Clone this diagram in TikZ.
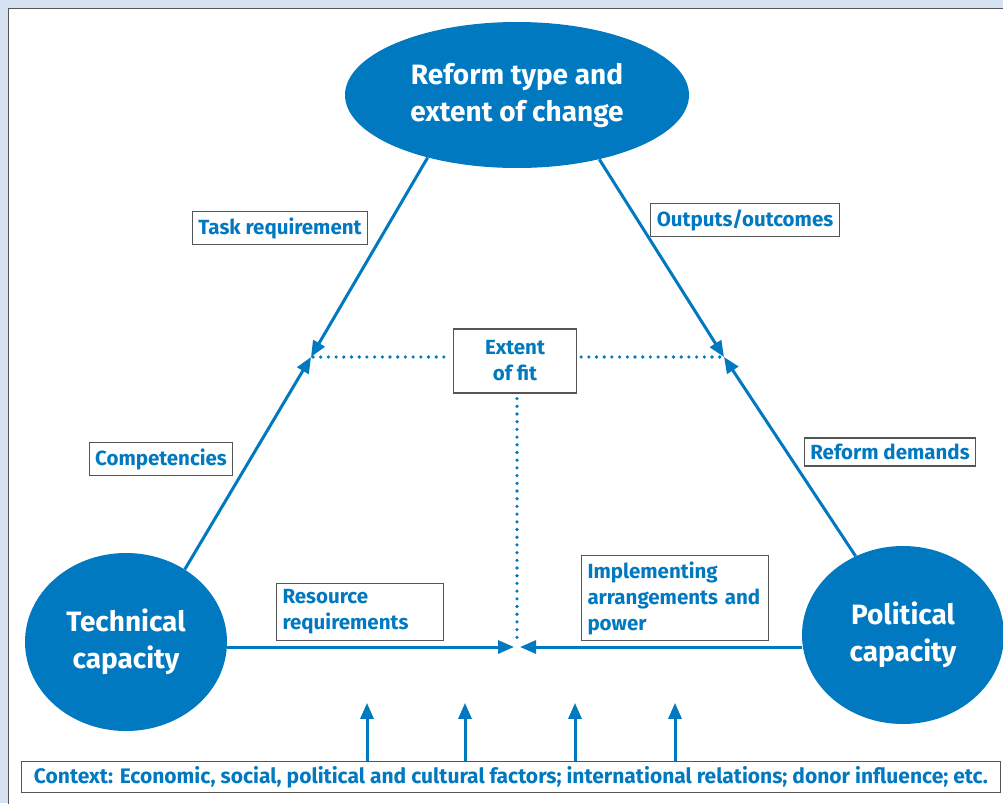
\documentclass[tikz,border=0pt]{standalone}
\usepackage{fontspec}
\setmainfont{Fira Sans}
\usetikzlibrary{calc}
\usetikzlibrary{positioning}
\usetikzlibrary{arrows.meta}
\usetikzlibrary{shapes.geometric}

\definecolor{reformblue}{HTML}{0079C1}
\definecolor{framebg}{HTML}{D6E2F1}
\definecolor{framegray}{HTML}{555555}

\tikzset{
  capacity/.style={ellipse, fill=reformblue, text=white, inner sep=0pt,
    font=\bfseries\fontsize{28}{37}\selectfont, align=center},
  labelbox/.style={draw=framegray, line width=1.2pt, fill=white, text=reformblue,
    font=\bfseries\fontsize{20.5}{26}\selectfont, inner sep=6pt},
  link/.style={draw=reformblue, line width=3pt, -{Triangle[length=16pt,width=13pt]}},
  fitline/.style={draw=reformblue, line width=3.6pt, line cap=round, dash pattern=on 0pt off 7.7pt}
}

\begin{document}
\begin{tikzpicture}[x=1pt,y=-1pt]
  \useasboundingbox (0,0) rectangle (1003,803);
  \fill[framebg] (0,0) rectangle (1003,803);
  \draw[framegray, line width=1.5pt, fill=white] (8.5,8.5) rectangle (1012,812);

  % the three capacities
  \node[capacity, minimum width=344pt, minimum height=146pt] (reform) at (517,95) {Reform type and\\extent of change};
  \node[capacity, minimum width=202pt, minimum height=178pt] (technical) at (126,642) {Technical\\capacity};
  \node[capacity, minimum width=202pt, minimum height=178pt] (political) at (903,635) {Political\\capacity};

  \coordinate (fitL) at (311,357);
  \coordinate (fitR) at (724,357);
  \coordinate (fitB) at (517,647);

  \node[labelbox, align=center, minimum width=123pt, minimum height=64pt] (extent) at (515,361) {Extent\\of fit};

  \draw[link] (reform.215) -- (fitL);
  \draw[link] (reform.322) -- (fitR);
  \draw[link] (technical.51) -- (fitL);
  \draw[link] (political.121) -- (fitR);
  \draw[link, shorten >=3pt] (technical.east |- fitB) -- (fitB);
  \draw[link, shorten >=3pt] (political.west |- fitB) -- (fitB);

  \draw[fitline] (fitL) ++(2,0) -- ($(extent.west)+(-3,-4)$);
  \draw[fitline] ($(extent.east)+(4,-4)$) -- (fitR);
  \draw[fitline] ($(extent.south)+(2,5)$) -- ($(fitB)+(0,-6)$);

  \node[labelbox] (task) at (280,228) {Task requirement};
  \node[labelbox] (outputs) at (745,220) {Outputs/outcomes};
  \node[labelbox] (competencies) at (161,459) {Competencies};
  \node[labelbox] (demands) at (890,452) {Reform demands};
  \node[labelbox, align=left, text width=155pt] (resource) at (360,612) {Resource\\requirements};
  \node[labelbox, align=left, text width=175pt] (implementing) at (675,598) {Implementing\\arrangements and\\power};

  \node[labelbox, inner sep=4pt, font=\bfseries\fontsize{21}{26}\selectfont,
    minimum width=979pt, minimum height=31pt] (context) at (511,777) {Context: Economic, social, political and cultural factors; international relations; donor influence; etc.};
  \foreach \x in {367,465,575,675}
    \draw[link] (\x,0 |- context.north) -- ++(0,-58);
\end{tikzpicture}
\end{document}
